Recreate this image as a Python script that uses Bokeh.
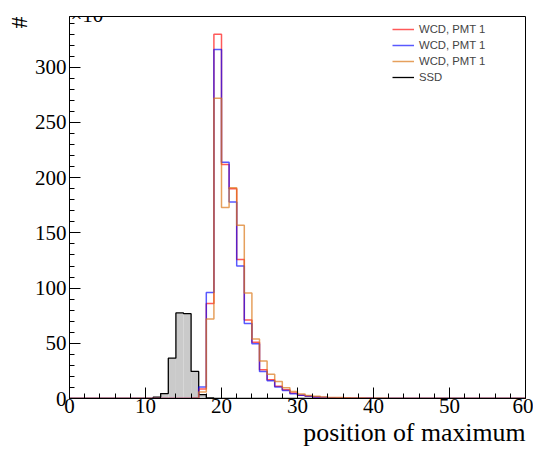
from bokeh.plotting import figure
from bokeh.models import FixedTicker, Label, Legend, LegendItem, Range1d, Title
from bokeh.embed import file_html
from bokeh.resources import INLINE

# ---- data (bins of width 1 from 0 to 60) ----
bin_edges = list(range(0, 61))

wcd_red = [0, 0, 0, 0, 0, 0, 0, 0, 0, 0,
           0, 0, 0, 0, 0, 0, 0.3, 8.5, 86, 330,
           212, 190, 126, 71, 51, 26, 17, 11, 8, 5,
           3, 2, 1.3, 1, 0.7, 0.5, 0.4, 0.3, 0.2, 0.15,
           0.1, 0.1, 0, 0, 0, 0, 0, 0, 0, 0,
           0, 0, 0, 0, 0, 0, 0, 0, 0, 0]

wcd_blue = [0, 0, 0, 0, 0, 0, 0, 0, 0, 0,
            0, 0, 0, 0, 0, 0, 0.3, 10.5, 96, 316,
            214, 178, 120, 68, 49.5, 24.5, 16, 10.5, 7.2, 4.2,
            3, 2, 1.3, 0.9, 0.6, 0.5, 0.4, 0.3, 0.2, 0.15,
            0.1, 0.1, 0, 0, 0, 0, 0, 0, 0, 0,
            0, 0, 0, 0, 0, 0, 0, 0, 0, 0]

wcd_orange = [0, 0, 0, 0, 0, 0, 0, 0, 0, 0,
              0, 0, 0, 0, 0, 0, 0.2, 6, 72, 272,
              173, 191, 157, 95.5, 54, 34, 22, 15.5, 9.7, 6.3,
              4, 2.8, 2, 1.4, 1, 0.8, 0.6, 0.5, 0.4, 0.3,
              0.2, 0.15, 0.1, 0.1, 0, 0, 0, 0, 0, 0,
              0, 0, 0, 0, 0, 0, 0, 0, 0, 0]

ssd = [0, 0, 0, 0, 0, 0, 0, 0, 0, 0,
       0, 1.2, 4.5, 36.5, 77.5, 76.8, 24.5, 3.5, 0.5, 0,
       0, 0, 0, 0, 0, 0, 0, 0, 0, 0,
       0, 0, 0, 0, 0, 0, 0, 0, 0, 0,
       0, 0, 0, 0, 0, 0, 0, 0, 0, 0,
       0, 0, 0, 0, 0, 0, 0, 0, 0, 0]

legend_labels = ["WCD, PMT 1", "WCD, PMT 1", "WCD, PMT 1", "SSD"]
x_major = [0, 10, 20, 30, 40, 50, 60]
y_major = [0, 50, 100, 150, 200, 250, 300]


def stairs(edges, counts):
    xs, ys = [edges[0]], [0]
    for i, c in enumerate(counts):
        xs += [edges[i], edges[i + 1]]
        ys += [c, c]
    xs.append(edges[-1])
    ys.append(0)
    return xs, ys


p = figure(width=533, height=450, x_range=Range1d(0, 60), y_range=Range1d(0, 346),
           output_backend="svg", toolbar_location=None, title=None,
           min_border_left=69, min_border_right=8, min_border_top=16, min_border_bottom=52)

p.background_fill_color = "white"
p.border_fill_color = "white"
p.xgrid.visible = False
p.ygrid.visible = False
p.outline_line_color = "black"
p.outline_line_width = 1
p.outline_line_alpha = 1

# SSD filled histogram
p.quad(left=bin_edges[:-1], right=bin_edges[1:], bottom=0, top=ssd,
       fill_color="#cacaca", line_color=None)
sx, sy = stairs(bin_edges, ssd)
r_ssd = p.line(sx, sy, line_color="black", line_width=1.3)

rx, ry = stairs(bin_edges, wcd_red)
r_red = p.line(rx, ry, line_color="#ff0000", line_alpha=0.65, line_width=1.5)
bx, by = stairs(bin_edges, wcd_blue)
r_blue = p.line(bx, by, line_color="#0000ff", line_alpha=0.65, line_width=1.5)
ox, oy = stairs(bin_edges, wcd_orange)
r_orange = p.line(ox, oy, line_color="#dc7818", line_alpha=0.7, line_width=1.5)

# axes styling
for ax in (p.xaxis[0], p.yaxis[0]):
    ax.axis_line_color = "black"
    ax.axis_line_width = 1
    ax.major_tick_in = 11
    ax.major_tick_out = 0
    ax.minor_tick_in = 5
    ax.minor_tick_out = 0
    ax.major_tick_line_color = "black"
    ax.minor_tick_line_color = "black"
    ax.major_label_text_font = "Liberation Serif"
    ax.major_label_text_font_size = "21px"
    ax.major_label_text_color = "black"

p.xaxis[0].ticker = FixedTicker(ticks=x_major, minor_ticks=list(range(0, 61, 2)))
p.yaxis[0].ticker = FixedTicker(ticks=y_major, minor_ticks=list(range(0, 346, 10)))
p.xaxis[0].major_label_standoff = 0
p.yaxis[0].major_label_standoff = 3

# legend
legend = Legend(items=[LegendItem(label=legend_labels[0], renderers=[r_red]),
                       LegendItem(label=legend_labels[1], renderers=[r_blue]),
                       LegendItem(label=legend_labels[2], renderers=[r_orange]),
                       LegendItem(label=legend_labels[3], renderers=[r_ssd])],
                location=(323, 313), border_line_color=None, background_fill_alpha=0,
                padding=0, margin=0, spacing=0, glyph_width=22, glyph_height=16,
                label_height=16, label_standoff=5, label_text_font="Liberation Sans",
                label_text_font_size="11.3px")
p.add_layout(legend)

# axis titles
p.add_layout(Title(text="position of maximum", align="right", standoff=0,
                   text_font="Liberation Serif", text_font_size="25.8px",
                   text_font_style="normal", text_color="black"), "below")
p.add_layout(Title(text="#", align="right", standoff=0,
                   text_font="Liberation Serif", text_font_size="24px",
                   text_font_style="normal", text_color="black"), "left")
p.add_layout(Label(x=1, y=384, x_units="screen", y_units="screen", text="×10³",
                   text_align="left", text_baseline="alphabetic",
                   text_font="Liberation Serif", text_font_size="21px", text_color="black"))

open("out.html", "w").write(file_html(p, INLINE))
